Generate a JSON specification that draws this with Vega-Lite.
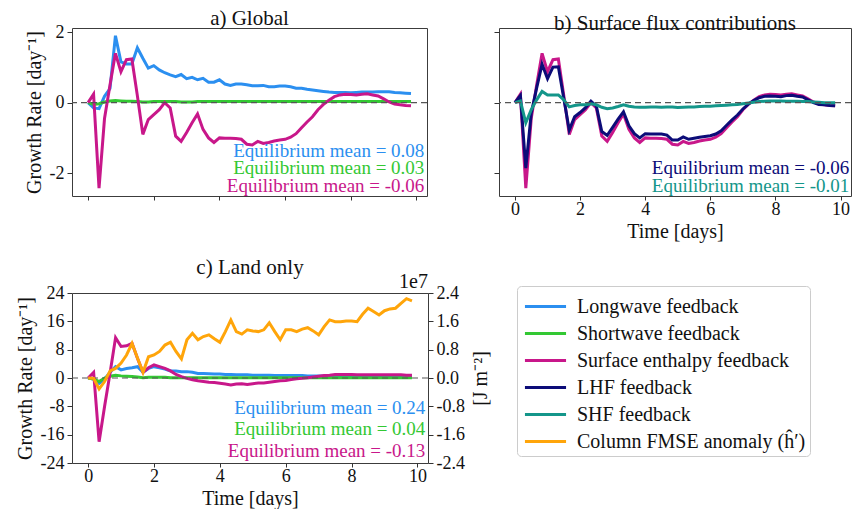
{
  "$schema": "https://vega.github.io/schema/vega-lite/v6.json",
  "padding": {"left": 14, "top": 7, "right": 0, "bottom": 0},
  "config": {
    "font": "Liberation Serif",
    "view": {"stroke": "#3c3c3c", "strokeWidth": 1},
    "axis": {"labelFont": "Liberation Serif", "labelFontSize": 18, "labelColor": "#111111", "titleFont": "Liberation Serif", "titleFontSize": 20, "titleFontWeight": "normal", "titleColor": "#111111", "grid": false, "domain": false, "tickColor": "#333333", "tickSize": 5, "labelPadding": 3, "titlePadding": 5, "labelOverlap": false},
    "axisX": {"tickSize": 4, "labelPadding": 0, "titlePadding": 3},
    "axisY": {"labelOverlap": false, "labelSeparation": 0},
    "title": {"font": "Liberation Serif", "fontSize": 21, "fontWeight": "normal", "color": "#111111", "offset": -6, "frame": "group"},
    "text": {"font": "Liberation Serif", "fontSize": 19}
  },
  "datasets": {
    "glob": [
      {"t":0,"LW":0,"SW":0,"SE":0,"LHF":0,"SHF":0},
      {"t":0.167,"LW":-0.15,"SW":-0.05,"SE":0.24,"LHF":0.2,"SHF":0.05},
      {"t":0.333,"LW":-0.17,"SW":-0.03,"SE":-2.43,"LHF":-1.86,"SHF":-0.57},
      {"t":0.5,"LW":0.18,"SW":0.02,"SE":-0.45,"LHF":-0.3,"SHF":-0.2},
      {"t":0.667,"LW":0.4,"SW":0.05,"SE":0.5,"LHF":0.42,"SHF":0.08},
      {"t":0.833,"LW":1.9,"SW":0.06,"SE":1.4,"LHF":1.09,"SHF":0.32},
      {"t":1,"LW":1.16,"SW":0.05,"SE":0.88,"LHF":0.68,"SHF":0.22},
      {"t":1.167,"LW":1.1,"SW":0.04,"SE":1.22,"LHF":1.01,"SHF":0.22},
      {"t":1.333,"LW":1.1,"SW":0.04,"SE":1.24,"LHF":1.02,"SHF":0.22},
      {"t":1.5,"LW":1.56,"SW":0.03,"SE":0.2,"LHF":0.12,"SHF":0.08},
      {"t":1.667,"LW":1.26,"SW":0.02,"SE":-0.9,"LHF":-0.78,"SHF":-0.12},
      {"t":1.833,"LW":0.98,"SW":0.02,"SE":-0.48,"LHF":-0.4,"SHF":-0.08},
      {"t":2,"LW":1.05,"SW":0.03,"SE":-0.34,"LHF":-0.28,"SHF":-0.06},
      {"t":2.167,"LW":0.93,"SW":0.03,"SE":-0.2,"LHF":-0.14,"SHF":-0.06},
      {"t":2.333,"LW":0.85,"SW":0.03,"SE":0.0,"LHF":0.04,"SHF":-0.03},
      {"t":2.5,"LW":0.79,"SW":0.03,"SE":-0.15,"LHF":-0.1,"SHF":-0.06},
      {"t":2.667,"LW":0.74,"SW":0.03,"SE":-0.95,"LHF":-0.82,"SHF":-0.13},
      {"t":2.833,"LW":0.8,"SW":0.02,"SE":-1.1,"LHF":-0.93,"SHF":-0.17},
      {"t":3,"LW":0.68,"SW":0.02,"SE":-0.85,"LHF":-0.7,"SHF":-0.15},
      {"t":3.167,"LW":0.72,"SW":0.02,"SE":-0.57,"LHF":-0.47,"SHF":-0.11},
      {"t":3.333,"LW":0.65,"SW":0.03,"SE":-0.32,"LHF":-0.26,"SHF":-0.06},
      {"t":3.5,"LW":0.69,"SW":0.03,"SE":-0.76,"LHF":-0.66,"SHF":-0.1},
      {"t":3.667,"LW":0.58,"SW":0.03,"SE":-1.0,"LHF":-0.88,"SHF":-0.12},
      {"t":3.833,"LW":0.58,"SW":0.03,"SE":-1.13,"LHF":-1.0,"SHF":-0.13},
      {"t":4,"LW":0.65,"SW":0.03,"SE":-1.0,"LHF":-0.88,"SHF":-0.13},
      {"t":4.167,"LW":0.53,"SW":0.03,"SE":-1.01,"LHF":-0.89,"SHF":-0.12},
      {"t":4.333,"LW":0.49,"SW":0.03,"SE":-1.01,"LHF":-0.89,"SHF":-0.12},
      {"t":4.5,"LW":0.53,"SW":0.03,"SE":-1.02,"LHF":-0.89,"SHF":-0.13},
      {"t":4.667,"LW":0.53,"SW":0.03,"SE":-1.04,"LHF":-0.92,"SHF":-0.12},
      {"t":4.833,"LW":0.51,"SW":0.03,"SE":-1.18,"LHF":-1.06,"SHF":-0.12},
      {"t":5,"LW":0.48,"SW":0.03,"SE":-1.2,"LHF":-1.06,"SHF":-0.14},
      {"t":5.167,"LW":0.48,"SW":0.03,"SE":-1.1,"LHF":-0.97,"SHF":-0.13},
      {"t":5.333,"LW":0.49,"SW":0.03,"SE":-1.16,"LHF":-1.04,"SHF":-0.12},
      {"t":5.5,"LW":0.45,"SW":0.03,"SE":-1.13,"LHF":-1.01,"SHF":-0.12},
      {"t":5.667,"LW":0.45,"SW":0.03,"SE":-1.09,"LHF":-0.98,"SHF":-0.11},
      {"t":5.833,"LW":0.47,"SW":0.03,"SE":-1.06,"LHF":-0.96,"SHF":-0.1},
      {"t":6,"LW":0.47,"SW":0.03,"SE":-1.04,"LHF":-0.94,"SHF":-0.1},
      {"t":6.167,"LW":0.45,"SW":0.03,"SE":-0.98,"LHF":-0.89,"SHF":-0.09},
      {"t":6.333,"LW":0.41,"SW":0.03,"SE":-0.88,"LHF":-0.8,"SHF":-0.08},
      {"t":6.5,"LW":0.41,"SW":0.03,"SE":-0.71,"LHF":-0.64,"SHF":-0.07},
      {"t":6.667,"LW":0.38,"SW":0.03,"SE":-0.55,"LHF":-0.49,"SHF":-0.06},
      {"t":6.833,"LW":0.36,"SW":0.03,"SE":-0.4,"LHF":-0.35,"SHF":-0.05},
      {"t":7,"LW":0.34,"SW":0.03,"SE":-0.2,"LHF":-0.18,"SHF":-0.03},
      {"t":7.167,"LW":0.32,"SW":0.03,"SE":-0.05,"LHF":-0.04,"SHF":-0.01},
      {"t":7.333,"LW":0.3,"SW":0.03,"SE":0.07,"LHF":0.06,"SHF":0.01},
      {"t":7.5,"LW":0.29,"SW":0.03,"SE":0.17,"LHF":0.14,"SHF":0.03},
      {"t":7.667,"LW":0.29,"SW":0.03,"SE":0.22,"LHF":0.18,"SHF":0.04},
      {"t":7.833,"LW":0.29,"SW":0.03,"SE":0.24,"LHF":0.19,"SHF":0.05},
      {"t":8,"LW":0.28,"SW":0.03,"SE":0.23,"LHF":0.18,"SHF":0.05},
      {"t":8.167,"LW":0.29,"SW":0.03,"SE":0.22,"LHF":0.17,"SHF":0.05},
      {"t":8.333,"LW":0.3,"SW":0.03,"SE":0.24,"LHF":0.2,"SHF":0.04},
      {"t":8.5,"LW":0.3,"SW":0.03,"SE":0.25,"LHF":0.21,"SHF":0.04},
      {"t":8.667,"LW":0.3,"SW":0.03,"SE":0.22,"LHF":0.18,"SHF":0.04},
      {"t":8.833,"LW":0.31,"SW":0.03,"SE":0.19,"LHF":0.16,"SHF":0.03},
      {"t":9,"LW":0.31,"SW":0.03,"SE":0.11,"LHF":0.08,"SHF":0.03},
      {"t":9.167,"LW":0.31,"SW":0.03,"SE":0.02,"LHF":0.0,"SHF":0.02},
      {"t":9.333,"LW":0.29,"SW":0.03,"SE":-0.04,"LHF":-0.05,"SHF":0.01},
      {"t":9.5,"LW":0.28,"SW":0.03,"SE":-0.06,"LHF":-0.06,"SHF":0.0},
      {"t":9.667,"LW":0.27,"SW":0.03,"SE":-0.08,"LHF":-0.08,"SHF":0.0},
      {"t":9.833,"LW":0.26,"SW":0.03,"SE":-0.09,"LHF":-0.09,"SHF":0.0}
    ],
    "land": [
      {"t":0,"LW":0,"SW":0,"SE":0,"FMSE":0},
      {"t":0.167,"LW":-0.3,"SW":-0.3,"SE":1.6,"FMSE":-0.01},
      {"t":0.333,"LW":-1.5,"SW":-1.0,"SE":-18,"FMSE":-0.31},
      {"t":0.5,"LW":-0.3,"SW":0.0,"SE":-8,"FMSE":-0.1},
      {"t":0.667,"LW":1.6,"SW":0.5,"SE":1.5,"FMSE":0.2},
      {"t":0.833,"LW":3.2,"SW":0.8,"SE":11.4,"FMSE":0.27},
      {"t":1,"LW":2.3,"SW":0.6,"SE":8.9,"FMSE":0.42},
      {"t":1.167,"LW":2.7,"SW":0.5,"SE":9.1,"FMSE":0.65},
      {"t":1.333,"LW":2.9,"SW":0.4,"SE":9.8,"FMSE":0.98},
      {"t":1.5,"LW":3.2,"SW":0.3,"SE":5.5,"FMSE":0.56},
      {"t":1.667,"LW":1.6,"SW":0.1,"SE":1.6,"FMSE":0.16},
      {"t":1.833,"LW":2.7,"SW":0.2,"SE":2.9,"FMSE":0.6},
      {"t":2,"LW":3.2,"SW":0.2,"SE":3.7,"FMSE":0.65},
      {"t":2.167,"LW":2.9,"SW":0.2,"SE":3.2,"FMSE":0.75},
      {"t":2.333,"LW":2.5,"SW":0.2,"SE":2.7,"FMSE":0.93},
      {"t":2.5,"LW":2.0,"SW":0.1,"SE":2.0,"FMSE":1.01},
      {"t":2.667,"LW":2.0,"SW":0.1,"SE":1.0,"FMSE":0.75},
      {"t":2.833,"LW":1.8,"SW":0.1,"SE":0.4,"FMSE":0.54},
      {"t":3,"LW":1.8,"SW":0.1,"SE":-0.1,"FMSE":1.08},
      {"t":3.167,"LW":1.6,"SW":0.1,"SE":-0.5,"FMSE":1.26},
      {"t":3.333,"LW":1.3,"SW":0.1,"SE":-0.8,"FMSE":1.08},
      {"t":3.5,"LW":1.3,"SW":0.1,"SE":-1.0,"FMSE":1.17},
      {"t":3.667,"LW":1.2,"SW":0.1,"SE":-1.2,"FMSE":1.22},
      {"t":3.833,"LW":1.1,"SW":0.1,"SE":-1.3,"FMSE":1.11},
      {"t":4,"LW":1.1,"SW":0.1,"SE":-1.5,"FMSE":1.01},
      {"t":4.167,"LW":1.0,"SW":0.1,"SE":-1.7,"FMSE":1.31},
      {"t":4.333,"LW":1.0,"SW":0.1,"SE":-2.0,"FMSE":1.64},
      {"t":4.5,"LW":0.9,"SW":0.1,"SE":-1.7,"FMSE":1.31},
      {"t":4.667,"LW":0.9,"SW":0.1,"SE":-1.6,"FMSE":1.24},
      {"t":4.833,"LW":0.9,"SW":0.1,"SE":-1.8,"FMSE":1.36},
      {"t":5,"LW":0.8,"SW":0.1,"SE":-1.6,"FMSE":1.33},
      {"t":5.167,"LW":0.8,"SW":0.1,"SE":-1.4,"FMSE":1.31},
      {"t":5.333,"LW":0.8,"SW":0.1,"SE":-1.4,"FMSE":1.36},
      {"t":5.5,"LW":0.8,"SW":0.1,"SE":-1.2,"FMSE":1.56},
      {"t":5.667,"LW":0.7,"SW":0.1,"SE":-1.0,"FMSE":1.31},
      {"t":5.833,"LW":0.7,"SW":0.1,"SE":-0.8,"FMSE":1.08},
      {"t":6,"LW":0.7,"SW":0.1,"SE":-0.7,"FMSE":1.36},
      {"t":6.167,"LW":0.7,"SW":0.1,"SE":-0.4,"FMSE":1.36},
      {"t":6.333,"LW":0.7,"SW":0.1,"SE":-0.2,"FMSE":1.31},
      {"t":6.5,"LW":0.7,"SW":0.1,"SE":-0.1,"FMSE":1.38},
      {"t":6.667,"LW":0.6,"SW":0.1,"SE":0.1,"FMSE":1.42},
      {"t":6.833,"LW":0.6,"SW":0.1,"SE":0.3,"FMSE":1.33},
      {"t":7,"LW":0.6,"SW":0.1,"SE":0.5,"FMSE":1.22},
      {"t":7.167,"LW":0.6,"SW":0.1,"SE":0.7,"FMSE":1.45},
      {"t":7.333,"LW":0.6,"SW":0.1,"SE":0.8,"FMSE":1.64},
      {"t":7.5,"LW":0.6,"SW":0.1,"SE":1.0,"FMSE":1.59},
      {"t":7.667,"LW":0.6,"SW":0.1,"SE":1.0,"FMSE":1.59},
      {"t":7.833,"LW":0.6,"SW":0.1,"SE":1.0,"FMSE":1.61},
      {"t":8,"LW":0.6,"SW":0.1,"SE":1.0,"FMSE":1.61},
      {"t":8.167,"LW":0.6,"SW":0.1,"SE":0.9,"FMSE":1.59},
      {"t":8.333,"LW":0.6,"SW":0.1,"SE":0.9,"FMSE":1.8},
      {"t":8.5,"LW":0.6,"SW":0.1,"SE":0.9,"FMSE":1.97},
      {"t":8.667,"LW":0.6,"SW":0.1,"SE":0.9,"FMSE":1.88},
      {"t":8.833,"LW":0.6,"SW":0.1,"SE":0.9,"FMSE":1.78},
      {"t":9,"LW":0.6,"SW":0.1,"SE":0.9,"FMSE":1.9},
      {"t":9.167,"LW":0.6,"SW":0.1,"SE":0.9,"FMSE":1.95},
      {"t":9.333,"LW":0.6,"SW":0.1,"SE":0.9,"FMSE":1.97},
      {"t":9.5,"LW":0.6,"SW":0.1,"SE":0.9,"FMSE":2.11},
      {"t":9.667,"LW":0.6,"SW":0.1,"SE":0.8,"FMSE":2.24},
      {"t":9.833,"LW":0.6,"SW":0.1,"SE":0.8,"FMSE":2.18}
    ]
  },
  "columns": 2,
  "spacing": {"row": 97, "column": 71},
  "bounds": "flush",
  "concat": [
    {
      "title": "a) Global",
      "width": 355,
      "height": 168,
      "layer": [
        {
          "data": {"name": "glob"},
          "transform": [{"fold": ["LW", "SW", "SE"], "as": ["series", "v"]}],
          "encoding": {
            "x": {"field": "t", "type": "quantitative", "scale": {"domain": [-0.49, 10.32], "nice": false, "zero": false}, "axis": {"values": [0, 2, 4, 6, 8, 10], "labels": false, "title": null}},
            "y": {"field": "v", "type": "quantitative", "scale": {"domain": [-2.65, 2.12], "nice": false, "zero": false}, "axis": {"values": [-2, 0, 2], "labelOverlap": false, "title": "Growth Rate [day⁻¹]", "labelExpr": "replace(datum.label, '−', '-')"}}
          },
          "layer": [
            {"transform": [{"filter": "datum.series === 'LW'"}], "mark": {"type": "line", "color": "#2b8ff0", "strokeWidth": 3}},
            {"transform": [{"filter": "datum.series === 'SW'"}], "mark": {"type": "line", "color": "#33c833", "strokeWidth": 3}},
            {"transform": [{"filter": "datum.series === 'SE'"}], "mark": {"type": "line", "color": "#c8178a", "strokeWidth": 3}}
          ]
        },
        {"data": {"values": [{}]}, "mark": {"type": "rule", "color": "#555555", "strokeDash": [6, 4], "strokeWidth": 1.2}, "encoding": {"y": {"datum": 0}}},
        {"data": {"values": [{"label": "Equilibrium mean = 0.08"}]}, "mark": {"type": "text", "align": "right", "baseline": "middle", "color": "#2b8ff0"}, "encoding": {"x": {"datum": 10.24}, "y": {"datum": -1.36}, "text": {"field": "label"}}},
        {"data": {"values": [{"label": "Equilibrium mean = 0.03"}]}, "mark": {"type": "text", "align": "right", "baseline": "middle", "color": "#33c833"}, "encoding": {"x": {"datum": 10.24}, "y": {"datum": -1.86}, "text": {"field": "label"}}},
        {"data": {"values": [{"label": "Equilibrium mean = -0.06"}]}, "mark": {"type": "text", "align": "right", "baseline": "middle", "color": "#c8178a"}, "encoding": {"x": {"datum": 10.24}, "y": {"datum": -2.36}, "text": {"field": "label"}}}
      ]
    },
    {
      "title": "b) Surface flux contributions",
      "width": 352,
      "height": 168,
      "layer": [
        {
          "data": {"name": "glob"},
          "transform": [{"fold": ["SE", "LHF", "SHF"], "as": ["series", "v"]}],
          "encoding": {
            "x": {"field": "t", "type": "quantitative", "scale": {"domain": [-0.49, 10.32], "nice": false, "zero": false}, "axis": {"values": [0, 2, 4, 6, 8, 10], "labelOverlap": false, "title": "Time [days]"}},
            "y": {"field": "v", "type": "quantitative", "scale": {"domain": [-2.65, 2.12], "nice": false, "zero": false}, "axis": {"values": [-2, 0, 2], "labels": false, "title": null}}
          },
          "layer": [
            {"transform": [{"filter": "datum.series === 'SE'"}], "mark": {"type": "line", "color": "#c8178a", "strokeWidth": 3}},
            {"transform": [{"filter": "datum.series === 'LHF'"}], "mark": {"type": "line", "color": "#0c0c78", "strokeWidth": 3}},
            {"transform": [{"filter": "datum.series === 'SHF'"}], "mark": {"type": "line", "color": "#14968a", "strokeWidth": 3}}
          ]
        },
        {"data": {"values": [{}]}, "mark": {"type": "rule", "color": "#555555", "strokeDash": [6, 4], "strokeWidth": 1.2}, "encoding": {"y": {"datum": 0}}},
        {"data": {"values": [{"label": "Equilibrium mean = -0.06"}]}, "mark": {"type": "text", "align": "right", "baseline": "middle", "color": "#0c0c78"}, "encoding": {"x": {"datum": 10.27}, "y": {"datum": -1.86}, "text": {"field": "label"}}},
        {"data": {"values": [{"label": "Equilibrium mean = -0.01"}]}, "mark": {"type": "text", "align": "right", "baseline": "middle", "color": "#14968a"}, "encoding": {"x": {"datum": 10.27}, "y": {"datum": -2.36}, "text": {"field": "label"}}}
      ]
    },
    {
      "title": "c) Land only",
      "width": 356,
      "height": 170,
      "layer": [
        {
          "layer": [
            {
              "data": {"name": "land"},
              "transform": [{"fold": ["LW", "SW", "SE"], "as": ["series", "v"]}],
              "encoding": {
                "x": {"field": "t", "type": "quantitative", "scale": {"domain": [-0.49, 10.32], "nice": false, "zero": false}, "axis": {"values": [0, 2, 4, 6, 8, 10], "labelOverlap": false, "title": "Time [days]"}},
                "y": {"field": "v", "type": "quantitative", "scale": {"domain": [-24, 24], "nice": false, "zero": false}, "axis": {"orient": "left", "values": [-24, -16, -8, 0, 8, 16, 24], "labelOverlap": false, "labelSeparation": 0, "title": "Growth Rate [day⁻¹]", "labelExpr": "replace(datum.label, '−', '-')"}},
                "color": {
                  "field": "series", "type": "nominal",
                  "scale": {"domain": ["LW", "SW", "SE", "LHF", "SHF", "FMSE"], "range": ["#2b8ff0", "#33c833", "#c8178a", "#0c0c78", "#14968a", "#ffa50a"]},
                  "legend": {"orient": "none", "legendX": 445, "legendY": 258, "title": null, "symbolType": "M-1.37,0H1.37", "symbolSize": 900, "symbolStrokeWidth": 3, "symbolOffset": 8, "labelFont": "Liberation Serif", "labelFontSize": 20, "labelColor": "#111111", "labelLimit": 400, "labelOffset": 15, "rowPadding": -6, "padding": 4, "strokeColor": "#cccccc", "fillColor": "#ffffff", "cornerRadius": 4, "labelExpr": "datum.value === 'LW' ? 'Longwave feedback' : datum.value === 'SW' ? 'Shortwave feedback' : datum.value === 'SE' ? 'Surface enthalpy feedback' : datum.value === 'LHF' ? 'LHF feedback' : datum.value === 'SHF' ? 'SHF feedback' : 'Column FMSE anomaly (ĥ′)'"}
                }
              },
              "layer": [
                {"transform": [{"filter": "datum.series === 'LW'"}], "mark": {"type": "line", "strokeWidth": 3}},
                {"transform": [{"filter": "datum.series === 'SW'"}], "mark": {"type": "line", "strokeWidth": 3}},
                {"transform": [{"filter": "datum.series === 'SE'"}], "mark": {"type": "line", "strokeWidth": 3}}
              ]
            },
            {"data": {"values": [{}]}, "mark": {"type": "rule", "color": "#555555", "strokeDash": [6, 4], "strokeWidth": 1.2}, "encoding": {"y": {"datum": 0, "type": "quantitative", "axis": {"orient": "left", "values": [-24, -16, -8, 0, 8, 16, 24], "labelOverlap": false, "labelSeparation": 0, "title": "Growth Rate [day⁻¹]", "labelExpr": "replace(datum.label, '−', '-')"}}}},
            {"data": {"values": [{"label": "Equilibrium mean = 0.24"}]}, "mark": {"type": "text", "align": "right", "baseline": "middle", "color": "#2b8ff0"}, "encoding": {"x": {"datum": 10.24}, "y": {"datum": -8.5, "type": "quantitative", "axis": {"orient": "left", "values": [-24, -16, -8, 0, 8, 16, 24], "labelOverlap": false, "labelSeparation": 0, "title": "Growth Rate [day⁻¹]", "labelExpr": "replace(datum.label, '−', '-')"}}, "text": {"field": "label"}}},
            {"data": {"values": [{"label": "Equilibrium mean = 0.04"}]}, "mark": {"type": "text", "align": "right", "baseline": "middle", "color": "#33c833"}, "encoding": {"x": {"datum": 10.24}, "y": {"datum": -14.4, "type": "quantitative", "axis": {"orient": "left", "values": [-24, -16, -8, 0, 8, 16, 24], "labelOverlap": false, "labelSeparation": 0, "title": "Growth Rate [day⁻¹]", "labelExpr": "replace(datum.label, '−', '-')"}}, "text": {"field": "label"}}},
            {"data": {"values": [{"label": "Equilibrium mean = -0.13"}]}, "mark": {"type": "text", "align": "right", "baseline": "middle", "color": "#c8178a"}, "encoding": {"x": {"datum": 10.24}, "y": {"datum": -20.6, "type": "quantitative", "axis": {"orient": "left", "values": [-24, -16, -8, 0, 8, 16, 24], "labelOverlap": false, "labelSeparation": 0, "title": "Growth Rate [day⁻¹]", "labelExpr": "replace(datum.label, '−', '-')"}}, "text": {"field": "label"}}}
          ]
        },
        {
          "layer": [
            {
              "data": {"name": "land"},
              "transform": [{"fold": ["FMSE"], "as": ["series", "w"]}],
              "mark": {"type": "line", "strokeWidth": 3},
              "encoding": {
                "x": {"field": "t", "type": "quantitative", "scale": {"domain": [-0.49, 10.32], "nice": false, "zero": false}, "axis": {"values": [0, 2, 4, 6, 8, 10], "labelOverlap": false, "title": "Time [days]"}},
                "y": {"field": "w", "type": "quantitative", "scale": {"domain": [-2.4, 2.4], "nice": false, "zero": false}, "axis": {"orient": "right", "values": [-2.4, -1.6, -0.8, 0, 0.8, 1.6, 2.4], "labelOverlap": false, "labelSeparation": 0, "format": ".1f", "labelExpr": "replace(datum.label, '−', '-')", "title": "[J m⁻²]", "titleAngle": 270, "titleBaseline": "top", "titlePadding": 6}},
                "color": {
                  "field": "series", "type": "nominal",
                  "scale": {"domain": ["LW", "SW", "SE", "LHF", "SHF", "FMSE"], "range": ["#2b8ff0", "#33c833", "#c8178a", "#0c0c78", "#14968a", "#ffa50a"]}
                }
              }
            },
            {"data": {"values": [{"label": "1e7"}]}, "mark": {"type": "text", "align": "right", "baseline": "bottom", "dy": -1, "fontSize": 20, "color": "#111111"}, "encoding": {"x": {"datum": 10.32}, "y": {"datum": 2.4, "type": "quantitative", "axis": {"orient": "right", "values": [-2.4, -1.6, -0.8, 0, 0.8, 1.6, 2.4], "labelOverlap": false, "labelSeparation": 0, "format": ".1f", "labelExpr": "replace(datum.label, '−', '-')", "title": "[J m⁻²]", "titleAngle": 270, "titleBaseline": "top", "titlePadding": 6}}, "text": {"field": "label"}}}
          ]
        }
      ],
      "resolve": {"scale": {"y": "independent"}}
    }
  ]
}
